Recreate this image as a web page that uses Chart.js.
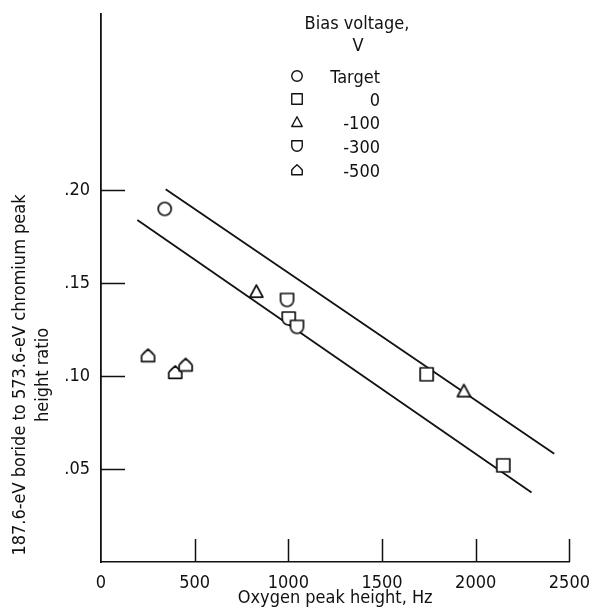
<!DOCTYPE html>
<html>
<head>
<meta charset="utf-8">
<script src="https://cdn.jsdelivr.net/npm/chart.js@4"></script>
<style>
  html, body { margin: 0; padding: 0; background: #fff; }
  #wrap { width: 593px; height: 610px; }
</style>
</head>
<body>
<div id="wrap"><canvas id="chart" width="593" height="610"></canvas></div>
<script>
// --- data ---
const biasLabels = ['Target', '0', '-100', '-300', '-500'];
const targetX = [340];
const targetY = [0.190];
const bias0X = [1738, 2147];
const bias0Y = [0.101, 0.052];
const bias100X = [829, 1937];
const bias100Y = [0.1455, 0.092];
const bias300X = [993, 1002, 1046];
const bias300Y = [0.141, 0.131, 0.1265];
const bias500X = [251, 396, 452];
const bias500Y = [0.111, 0.102, 0.106];
const upperLineX = [345, 2419];
const upperLineY = [0.2006, 0.0582];
const lowerLineX = [194, 2298];
const lowerLineY = [0.184, 0.0374];
const xTicks = [0, 500, 1000, 1500, 2000, 2500];
const yTicks = [0.05, 0.10, 0.15, 0.20];

const INK = '#111';
const FONT = "'Liberation Sans Narrow', 'DejaVu Sans Condensed', 'Roboto Condensed', sans-serif";
Chart.defaults.font.family = FONT;
Chart.defaults.color = INK;

function toPoints(xs, ys) {
    return xs.map((x, i) => ({ x: x, y: ys[i] }));
}

// open symbols drawn on small canvases so they can be used as point styles
function makeMarker(shape, size, lw) {
    const c = document.createElement('canvas');
    const dim = Math.ceil(size + lw * 2 + 2);
    c.width = dim;
    c.height = dim;
    const g = c.getContext('2d');
    const h = size / 2;
    g.translate(dim / 2, dim / 2);
    g.lineWidth = lw;
    g.strokeStyle = INK;
    g.fillStyle = '#fff';
    g.lineJoin = 'round';
    g.beginPath();
    if (shape === 'circle') {
        g.arc(0, 0, h, 0, Math.PI * 2);
    } else if (shape === 'square') {
        g.rect(-h, -h, size, size);
    } else if (shape === 'triangle') {
        g.moveTo(0, -h);
        g.lineTo(h, h * 0.85);
        g.lineTo(-h, h * 0.85);
        g.closePath();
    } else if (shape === 'shield') {
        // flat top, rounded bottom
        g.moveTo(-h, -h);
        g.lineTo(h, -h);
        g.lineTo(h, 0);
        g.arc(0, 0, h, 0, Math.PI);
        g.closePath();
    } else if (shape === 'house') {
        // flat bottom, pitched top
        g.moveTo(-h, h * 0.9);
        g.lineTo(h, h * 0.9);
        g.lineTo(h, 0);
        g.quadraticCurveTo(h * 0.6, -h * 0.5, 0, -h);
        g.quadraticCurveTo(-h * 0.6, -h * 0.5, -h, 0);
        g.closePath();
    }
    g.fill();
    g.stroke();
    return c;
}

const shapes = ['circle', 'square', 'triangle', 'shield', 'house'];
const plotMarkers = shapes.map(s => makeMarker(s, 13, 1.7));
const keyMarkers = shapes.map(s => makeMarker(s, 10.5, 1.4));

// inward tick marks, y title and symbol key
const annotations = {
    id: 'annotations',
    afterDraw(chart) {
        const ctx = chart.ctx;
        const xs = chart.scales.x;
        const ys = chart.scales.y;
        const area = chart.chartArea;

        ctx.save();
        ctx.strokeStyle = INK;
        ctx.lineWidth = 1.5;
        ctx.beginPath();
        xTicks.slice(1).forEach(v => {
            const px = Math.round(xs.getPixelForValue(v)) + 0.5;
            ctx.moveTo(px, area.bottom);
            ctx.lineTo(px, area.bottom - 23);
        });
        yTicks.forEach(v => {
            const py = Math.round(ys.getPixelForValue(v)) + 0.5;
            ctx.moveTo(area.left, py);
            ctx.lineTo(area.left + 24, py);
        });
        ctx.stroke();

        // y axis title, two lines
        ctx.fillStyle = INK;
        ctx.font = '18px ' + FONT;
        ctx.textAlign = 'center';
        ctx.textBaseline = 'middle';
        ctx.save();
        ctx.translate(20, 375);
        ctx.rotate(-Math.PI / 2);
        ctx.fillText('187.6-eV boride to 573.6-eV chromium peak', 0, 0);
        ctx.restore();
        ctx.save();
        ctx.translate(43, 375);
        ctx.rotate(-Math.PI / 2);
        ctx.fillText('height ratio', 0, 0);
        ctx.restore();

        // key
        ctx.fillText('Bias voltage,', 357, 24);
        ctx.fillText('V', 358, 46);
        const rowY = [76, 99, 122, 146, 170];
        ctx.textAlign = 'right';
        biasLabels.forEach((label, i) => {
            const m = keyMarkers[i];
            ctx.drawImage(m, 297 - m.width / 2, rowY[i] - m.height / 2);
            ctx.fillText(label, 380, rowY[i] + 2);
        });
        ctx.restore();
    }
};

const ctx = document.getElementById('chart').getContext('2d');
new Chart(ctx, {
    data: {
        datasets: [
            { type: 'scatter', label: biasLabels[0], data: toPoints(targetX, targetY), pointStyle: plotMarkers[0], order: 1 },
            { type: 'scatter', label: biasLabels[1], data: toPoints(bias0X, bias0Y), pointStyle: plotMarkers[1], order: 1 },
            { type: 'scatter', label: biasLabels[2], data: toPoints(bias100X, bias100Y), pointStyle: plotMarkers[2], order: 1 },
            { type: 'scatter', label: biasLabels[3], data: toPoints(bias300X, bias300Y), pointStyle: plotMarkers[3], order: 1 },
            { type: 'scatter', label: biasLabels[4], data: toPoints(bias500X, bias500Y), pointStyle: plotMarkers[4], order: 1 },
            { type: 'line', data: toPoints(upperLineX, upperLineY), borderColor: INK, borderWidth: 1.8, pointRadius: 0, order: 2 },
            { type: 'line', data: toPoints(lowerLineX, lowerLineY), borderColor: INK, borderWidth: 1.8, pointRadius: 0, order: 2 }
        ]
    },
    options: {
        responsive: false,
        animation: false,
        events: [],
        layout: { padding: { left: 0, top: 10, right: 16, bottom: 0 } },
        plugins: {
            legend: { display: false },
            tooltip: { enabled: false }
        },
        scales: {
            x: {
                type: 'linear',
                min: 0,
                max: 2500,
                grid: { display: false },
                border: { display: true, color: INK, width: 1.6 },
                afterFit: scale => { scale.height = 48; },
                afterBuildTicks: scale => { scale.ticks = xTicks.map(v => ({ value: v })); },
                ticks: {
                    autoSkip: false,
                    padding: 3,
                    maxRotation: 0,
                    font: { size: 18 },
                    color: INK,
                    callback: v => String(v)
                },
                title: {
                    display: true,
                    text: 'Oxygen peak height, Hz',
                    font: { size: 18 },
                    color: INK,
                    padding: { top: 0, bottom: 1 }
                }
            },
            y: {
                type: 'linear',
                min: 0,
                max: 0.295,
                grid: { display: false },
                border: { display: true, color: INK, width: 1.8 },
                afterFit: scale => { scale.width = 101; },
                afterBuildTicks: scale => { scale.ticks = yTicks.map(v => ({ value: v })); },
                ticks: {
                    padding: 3,
                    font: { size: 18 },
                    color: INK,
                    callback: v => '.' + String(Math.round(v * 100)).padStart(2, '0')
                }
            }
        }
    },
    plugins: [annotations]
});
</script>
</body>
</html>
